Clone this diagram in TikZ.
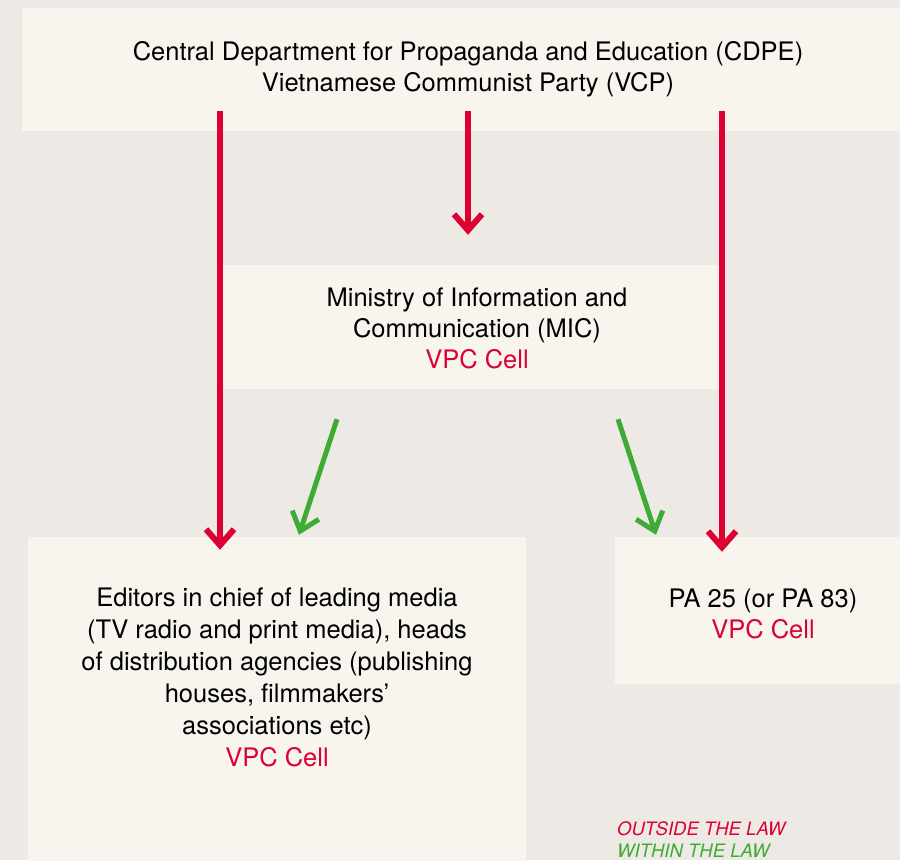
\documentclass[tikz,border=0pt]{standalone}
\usepackage{fontspec}
\setmainfont{TeX Gyre Heros}
\usetikzlibrary{arrows.meta, positioning}

\definecolor{paper}{HTML}{EDEAE5}
\definecolor{boxfill}{HTML}{F8F5EF}
\definecolor{vpcred}{HTML}{DD0033}
\definecolor{lawgreen}{HTML}{3FAA35}

\begin{document}
\begin{tikzpicture}[x=1pt,y=-1pt,
  box/.style={fill=boxfill,inner sep=0pt,align=center,font=\fontsize{25.5}{31}\selectfont},
  boxtext/.style={inner sep=0pt,align=center,font=\fontsize{25.5}{31}\selectfont},
  legend/.style={inner sep=0pt,anchor=west,font=\fontsize{18.5}{22}\selectfont\itshape},
  ctrl/.style={draw=vpcred,line width=6pt,-{Straight Barb[length=16pt,width=28pt]}},
  legal/.style={draw=lawgreen,line width=5pt,-{Straight Barb[length=17pt,width=28pt]}}]
  \clip (0,0) rectangle (900,860);
  \fill[paper] (0,0) rectangle (900,860);

  % boxes
  \node[box, minimum width=892pt, minimum height=123pt] (cdpe) at (468,69.5)
    {Central Department for Propaganda and Education (CDPE)\\Vietnamese Communist Party (VCP)};
  \node[box, minimum width=496pt, minimum height=124pt] (mic) at (471,327) {};
  \node[boxtext] (mictext) at ([xshift=6pt,yshift=-1pt]mic.center)
    {Ministry of Information and\\Communication (MIC)\\\textcolor{vpcred}{VPC Cell}};
  \node[box, minimum width=498pt, minimum height=343pt] (editors) at (277,708.5) {};
  \node[boxtext, font=\fontsize{25.5}{32}\selectfont] (editorstext) at ([yshift=-141pt]editors.north)
    {Editors in chief of leading media\\(TV radio and print media), heads\\of distribution agencies (publishing\\houses, filmmakers'\\associations etc)\\\textcolor{vpcred}{VPC Cell}};
  \node[box, minimum width=296pt, minimum height=147pt] (pa) at (763,610.5) {};
  \node[boxtext] (patext) at ([yshift=-3.5pt]pa.center)
    {PA 25 (or PA 83)\\\textcolor{vpcred}{VPC Cell}};

  % legend
  \node[legend, text=vpcred] (outside) at (617,829) {OUTSIDE THE LAW};
  \node[legend, text=lawgreen] (within) at (617,851) {WITHIN THE LAW};

  % party control
  \draw[ctrl] ([xshift=-248pt,yshift=20pt]cdpe.south) -- ([xshift=-57pt,yshift=-13pt]editors.north);
  \draw[ctrl] ([yshift=20pt]cdpe.south) -- ([xshift=-3pt,yshift=30pt]mic.north);
  \draw[ctrl] ([xshift=254pt,yshift=20pt]cdpe.south) -- ([xshift=-41pt,yshift=-15pt]pa.north);
  % ministry
  \draw[legal] ([xshift=-134pt,yshift=-30pt]mic.south) -- ([xshift=22pt,yshift=2pt]editors.north);
  \draw[legal] ([xshift=147pt,yshift=-30pt]mic.south) -- ([xshift=-107pt,yshift=2pt]pa.north);
\end{tikzpicture}
\end{document}
